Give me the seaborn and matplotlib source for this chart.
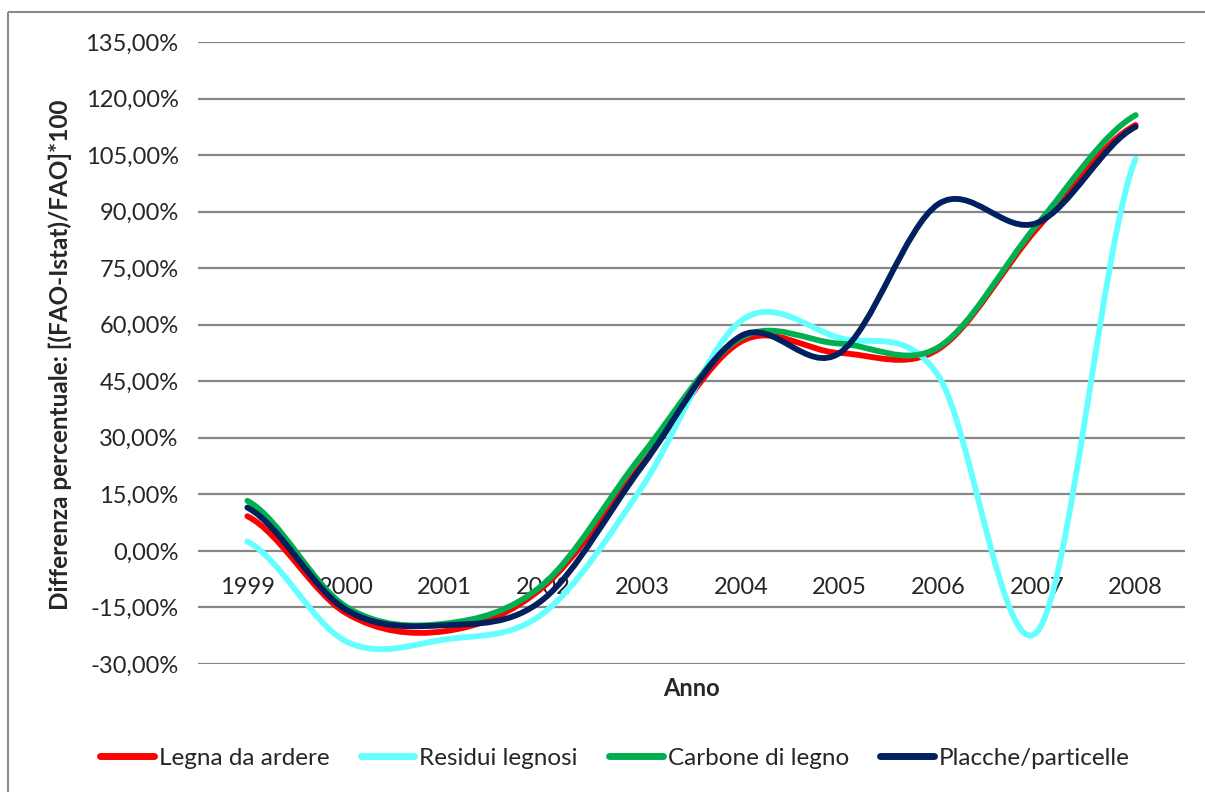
import numpy as np
import pandas as pd
import seaborn as sns
import matplotlib.pyplot as plt
from matplotlib.path import Path
from matplotlib.patches import PathPatch
from matplotlib.lines import Line2D

# data (percent)
anni = ['1999', '2000', '2001', '2002', '2003', '2004', '2005', '2006', '2007', '2008']
legna = [9.2, -16.5, -21.3, -9.5, 23.0, 55.5, 52.5, 53.5, 85.5, 113.0]
residui = [2.5, -24.0, -23.5, -16.5, 17.0, 61.0, 56.5, 46.5, -21.5, 104.0]
carbone = [13.3, -14.8, -19.3, -8.8, 25.5, 56.5, 55.0, 54.0, 86.5, 115.6]
placche = [11.5, -15.6, -19.7, -12.8, 22.5, 57.0, 52.5, 92.0, 87.0, 112.5]

serie = ['Legna da ardere', 'Residui legnosi', 'Carbone di legno', 'Placche/particelle']
colori = ['#FF0000', '#66FFFF', '#00B050', '#002060']

df = pd.DataFrame({'anno': anni, 'Legna da ardere': legna, 'Residui legnosi': residui,
                   'Carbone di legno': carbone, 'Placche/particelle': placche})

sns.set_style('white')
plt.rcParams['font.family'] = ['Lato', 'DejaVu Sans']

fig = plt.figure(figsize=(12.05, 7.92), dpi=100)
ax = fig.add_axes([198/1205, 1-664/792, (1185-198)/1205, (664-42)/792])


def smooth_path(y):
    # Excel-like smoothed line: cubic bezier segments through the points
    y = np.asarray(y, dtype=float)
    n = len(y)
    yp = np.concatenate([[y[0]], y, [y[-1]]])
    m = (yp[2:] - yp[:-2]) / 2
    verts = [(0, y[0])]
    codes = [Path.MOVETO]
    for i in range(n - 1):
        verts += [(i + 1/3, y[i] + m[i]/3), (i + 1 - 1/3, y[i+1] - m[i+1]/3), (i + 1, y[i+1])]
        codes += [Path.CURVE4] * 3
    return Path(verts, codes)


for nome, col in zip(serie, colori):
    patch = PathPatch(smooth_path(df[nome]), fill=False, edgecolor=col, lw=4.2,
                      capstyle='round', joinstyle='round', zorder=3)
    ax.add_patch(patch)

ax.set_xlim(-0.5, len(anni) - 0.5)
ax.set_ylim(-30, 135)
ax.set_yticks(np.arange(-30, 136, 15))
ax.set_yticklabels([f'{v:.2f}%'.replace('.', ',') for v in np.arange(-30, 136, 15)])
ax.grid(axis='y', color='#878787', lw=1.6)
ax.set_axisbelow(True)
ax.set_xticks(range(len(anni)))
ax.set_xticklabels(anni)
ax.spines['bottom'].set_position(('data', 0))
for s in ax.spines.values():
    s.set_visible(False)
ax.tick_params(axis='x', length=0, pad=19, labelsize=17)
ax.tick_params(axis='y', length=0, pad=14, labelsize=17)

fig.text(60/1205, 1-355/792, 'Differenza percentuale: [(FAO-Istat)/FAO]*100', rotation=90,
         ha='center', va='center', fontsize=17.5, fontweight='bold')
fig.text(691/1205, 1-688/792, 'Anno', ha='center', va='center', fontsize=17, fontweight='bold')

handles = [Line2D([], [], color=c, lw=5, solid_capstyle='round') for c in colori]
fig.legend(handles, serie, loc='center', bbox_to_anchor=(615/1205, 1-758/792), ncol=4,
           frameon=False, fontsize=17.5, handlelength=2.2, handletextpad=0.2, columnspacing=1.3)

# outer chart border (only left and top edges are inside the picture)
top = 1 - 12/792
fig.add_artist(Line2D([8/1205, 8/1205], [-0.02, top], transform=fig.transFigure,
                      color='#8a8a8a', lw=1.5, solid_capstyle='butt'))
fig.add_artist(Line2D([8/1205, 1.02], [top, top], transform=fig.transFigure,
                      color='#8a8a8a', lw=1.5, solid_capstyle='butt'))

fig.savefig('out.png', dpi=100)
